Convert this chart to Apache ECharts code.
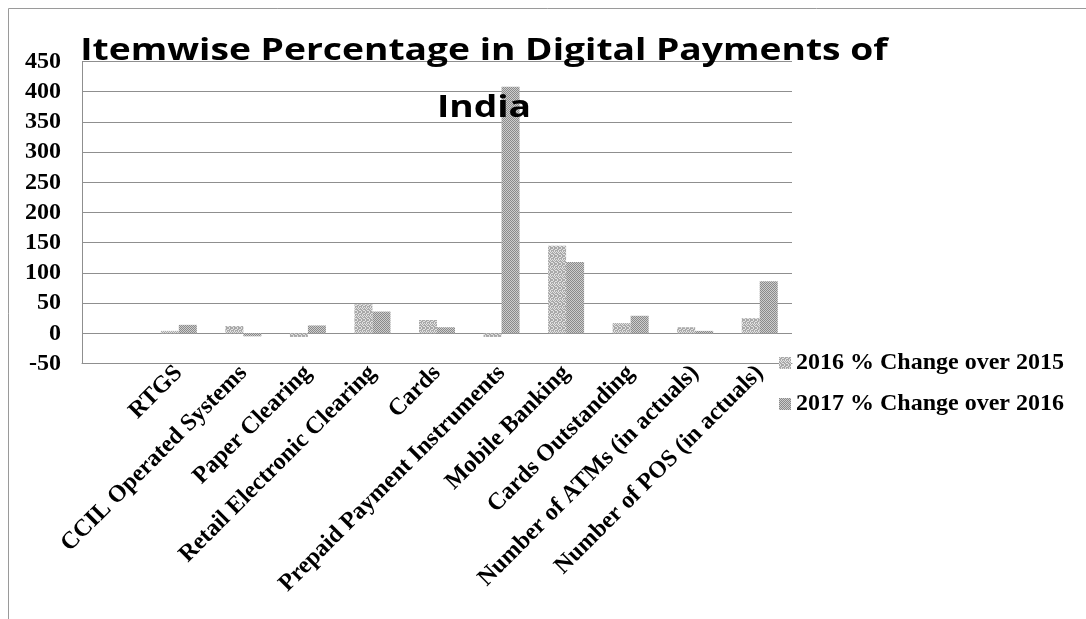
<!DOCTYPE html>
<html>
<head>
<meta charset="utf-8">
<title>Itemwise Percentage in Digital Payments of India</title>
<script src="https://cdn.jsdelivr.net/npm/echarts@6/dist/echarts.min.js"></script>
<style>
  html, body { margin: 0; padding: 0; background: #fff; }
  #chart { width: 1086px; height: 619px; }
</style>
</head>
<body>
<div id="chart"></div>
<script>
// Payment items (the first slot is left blank on the axis)
const categories = [
  '',
  'RTGS',
  'CCIL Operated Systems',
  'Paper Clearing',
  'Retail Electronic Clearing',
  'Cards',
  'Prepaid Payment Instruments',
  'Mobile Banking',
  'Cards Outstanding',
  'Number of ATMs (in actuals)',
  'Number of POS (in actuals)'
];

const seriesNames = ['2016 % Change over 2015', '2017 % Change over 2016'];

// Percentage change, 2016 over 2015
const change2016 = [null, 4, 12, -6, 48, 22, -6, 145, 17, 10, 25];
// Percentage change, 2017 over 2016
const change2017 = [null, 14, -5, 13, 36, 10, 408, 118, 29, 4, 86];

const yTicks = { min: -50, max: 450, step: 50 };

// Small dithered fills for the two series
function makePattern(rows, dark, light) {
  const c = document.createElement('canvas');
  c.width = rows[0].length;
  c.height = rows.length;
  const ctx = c.getContext('2d');
  rows.forEach((row, y) => {
    for (let x = 0; x < row.length; x++) {
      ctx.fillStyle = row[x] === '1' ? dark : light;
      ctx.fillRect(x, y, 1, 1);
    }
  });
  return { image: c, repeat: 'repeat' };
}

const fill2016 = makePattern(
  ['1011', '0110', '1101', '0101', '1010', '1101', '0110', '1011'],
  '#a9a9a9', '#e2e2e2'
);
const fill2017 = makePattern(
  ['10', '01'],
  '#8a8a8a', '#cdcdcd'
);

const serifFont = '"Liberation Serif", "Times New Roman", serif';
const titleFont = '"Open Sans", "Noto Sans", sans-serif';

const chart = echarts.init(document.getElementById('chart'), null, { renderer: 'canvas' });

chart.setOption({
  animation: false,
  backgroundColor: '#ffffff',
  grid: { left: 82, right: 294, top: 61.5, bottom: 255.5, containLabel: false },
  legend: {
    orient: 'vertical',
    left: 774,
    top: 346,
    itemWidth: 12,
    itemHeight: 12,
    itemGap: 17,
    icon: 'rect',
    textStyle: { fontFamily: serifFont, fontWeight: 'bold', fontSize: 24, color: '#000' },
    data: seriesNames
  },
  xAxis: {
    type: 'category',
    data: categories,
    axisLine: { show: true, onZero: false, lineStyle: { color: '#8f8f8f', width: 1 } },
    axisTick: { show: false },
    axisLabel: {
      interval: 0,
      rotate: 45,
      margin: 6,
      fontFamily: serifFont,
      fontWeight: 'bold',
      fontSize: 24,
      color: '#000'
    }
  },
  yAxis: {
    type: 'value',
    min: yTicks.min,
    max: yTicks.max,
    interval: yTicks.step,
    axisLine: { show: true, lineStyle: { color: '#8f8f8f', width: 1 } },
    axisTick: { show: false },
    splitLine: { show: true, lineStyle: { color: '#8f8f8f', width: 1 } },
    axisLabel: {
      margin: 21,
      fontFamily: serifFont,
      fontWeight: 'bold',
      fontSize: 24,
      color: '#000'
    }
  },
  series: [
    {
      name: seriesNames[0],
      type: 'bar',
      data: change2016,
      barWidth: 18,
      barGap: '0%',
      itemStyle: { color: fill2016 }
    },
    {
      name: seriesNames[1],
      type: 'bar',
      data: change2017,
      barWidth: 18,
      barGap: '0%',
      itemStyle: { color: fill2017 }
    }
  ],
  graphic: [
    // frame lines along the top and left
    { type: 'line', shape: { x1: 8.5, y1: 8.5, x2: 1086, y2: 8.5 }, style: { stroke: '#9a9a9a', lineWidth: 1 }, z: 10 },
    { type: 'line', shape: { x1: 8.5, y1: 8.5, x2: 8.5, y2: 619 }, style: { stroke: '#9a9a9a', lineWidth: 1 }, z: 10 },
    // two-line title, widened a little
    {
      type: 'text', x: 484, y: 51, scaleX: 1.2, z: 20,
      style: {
        text: 'Itemwise Percentage in Digital Payments of',
        font: 'bold 31px ' + titleFont,
        fill: '#000', align: 'center', verticalAlign: 'middle'
      }
    },
    {
      type: 'text', x: 484, y: 108, scaleX: 1.2, z: 20,
      style: {
        text: 'India',
        font: 'bold 31px ' + titleFont,
        fill: '#000', align: 'center', verticalAlign: 'middle'
      }
    }
  ]
});
</script>
</body>
</html>
